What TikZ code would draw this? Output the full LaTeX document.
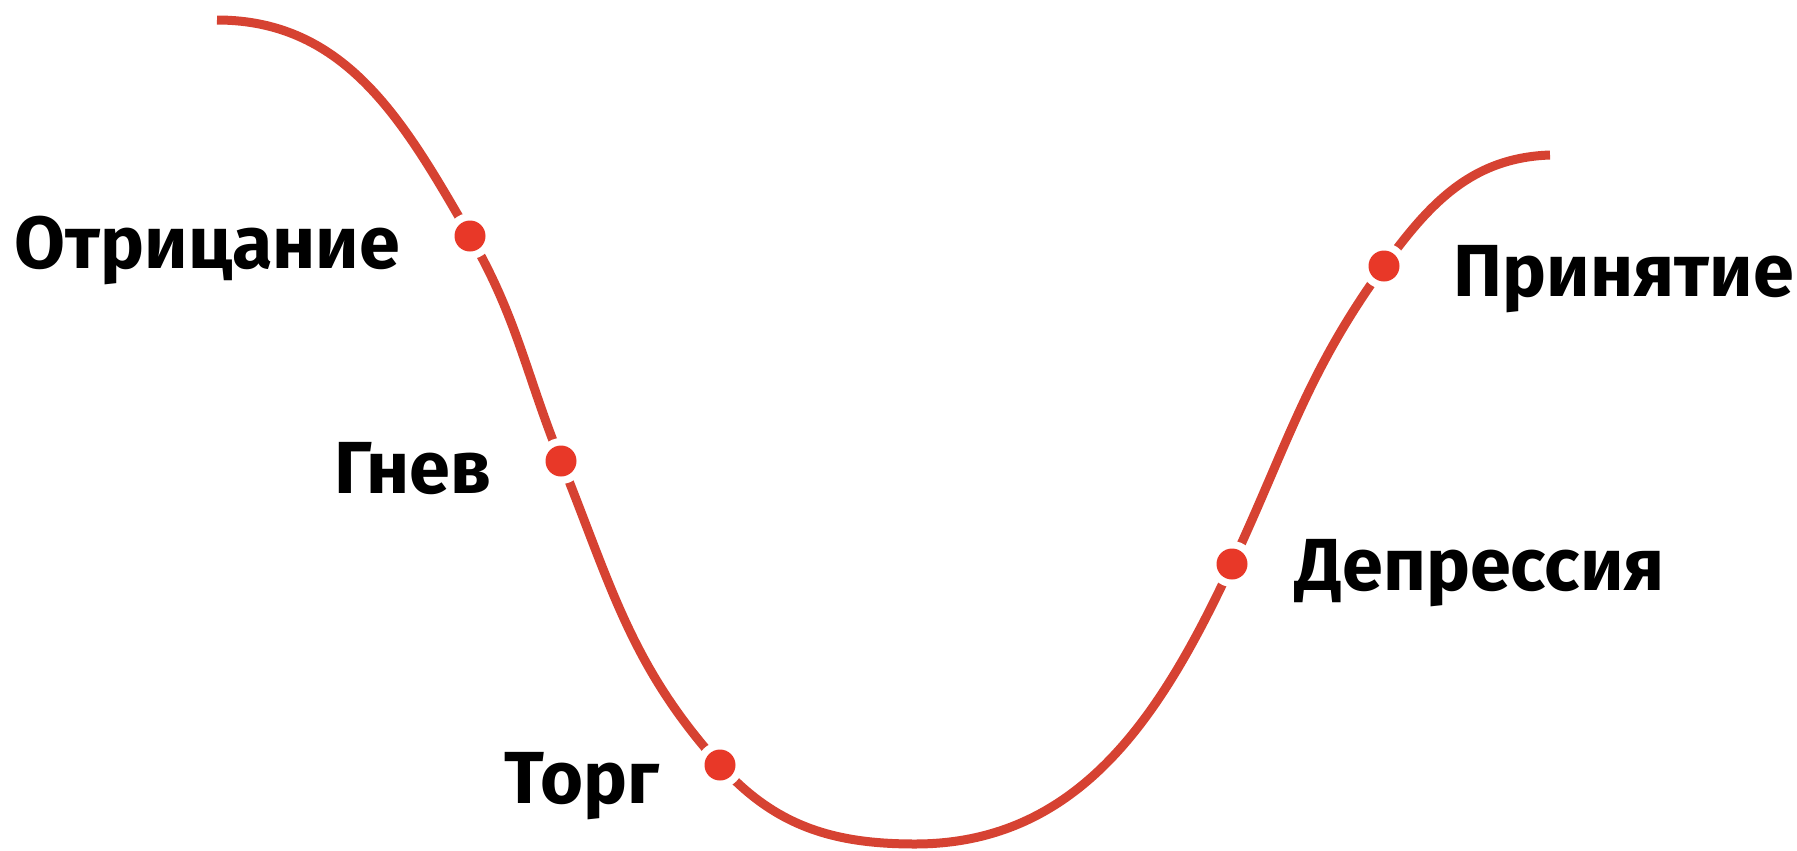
\documentclass[tikz,border=0pt]{standalone}
\usepackage{fontspec}
\setmainfont{Fira Sans}
\usepackage{xcolor}
\definecolor{curvered}{RGB}{214,66,50}
\definecolor{dotred}  {RGB}{232,56,40}
\usetikzlibrary{positioning}
\tikzset{
  stagedot/.style={circle, fill=dotred, minimum size=0.31cm, inner sep=0pt,
    preaction={draw=white, line width=0.15cm}},
  stagename/.style={inner sep=0pt,
    font=\fontsize{21}{25}\selectfont\bfseries},
}
\begin{document}
\begin{tikzpicture}[
  curve/.style={draw=curvered, line width=0.09cm}]
\useasboundingbox (0,0) rectangle (17.97,-8.51);
% points on the curve
\coordinate (s) at (2.17,-0.20);
\coordinate (m) at (9.15,-8.44);
\coordinate (t) at (15.50,-1.55);
% the curve (drawn first; the dots cover it)
\draw[curve] (s) to[out=0,in=120] (4.70,-2.36) to[out=-60,in=112] (5.61,-4.61)
  to[out=-68,in=132] (7.20,-7.65) to[out=-48,in=180] (m)
  to[out=0,in=245] (12.32,-5.64) to[out=65,in=234] (13.84,-2.66)
  to[out=54,in=182] (t);
% dots
\node[stagedot] (a) at (4.70,-2.36) {};
\node[stagedot] (b) at (5.61,-4.61) {};
\node[stagedot] (c) at (7.20,-7.65) {};
\node[stagedot] (d) at (12.32,-5.64) {};
\node[stagedot] (e) at (13.84,-2.66) {};
% stage names
\node[stagename, left=0.53cm of a, anchor=base east, yshift=-0.32cm] (la) {Отрицание};
\node[stagename, left=0.53cm of b, anchor=base east, yshift=-0.32cm] (lb) {Гнев};
\node[stagename, left=0.44cm of c, anchor=base east, yshift=-0.38cm] (lc) {Торг};
\node[stagename, right=0.47cm of d, anchor=base west, yshift=-0.26cm] (ld) {Депрессия};
\node[stagename, right=0.53cm of e, anchor=base west, yshift=-0.30cm] (le) {Принятие};
\end{tikzpicture}
\end{document}
